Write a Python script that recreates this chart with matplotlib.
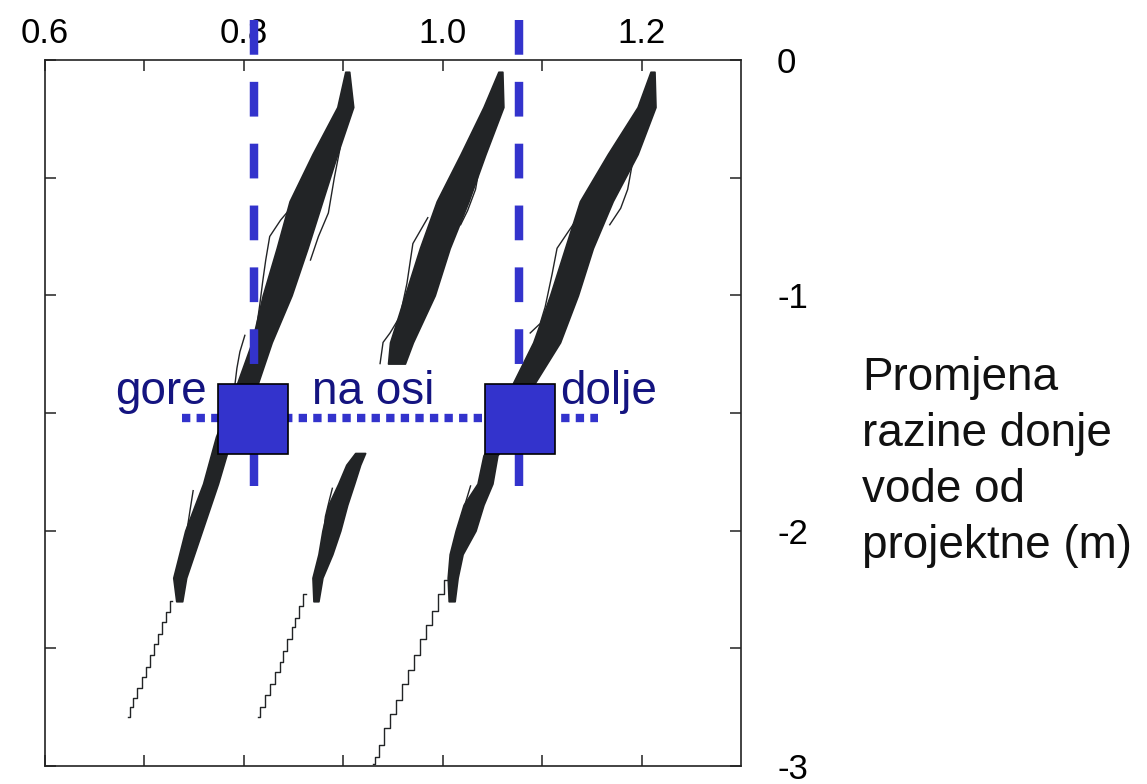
import matplotlib.pyplot as plt

plt.rcParams['font.family'] = ['Liberation Sans', 'DejaVu Sans']
plt.rcParams['axes.unicode_minus'] = False

# axis ticks
x_major = [0.6, 0.8, 1.0, 1.2]
x_labels = ['0.6', '0.8', '1.0', '1.2']
x_minor = [0.7, 0.9, 1.1]
y_major = [0, -1, -2, -3]
y_labels = ['0', '-1', '-2', '-3']
y_minor = [-0.5, -1.5, -2.5]

# bundle A (left): dense band edges
a_y = [-0.05, -0.2, -0.4, -0.6, -0.8, -1.0, -1.2, -1.4, -1.6, -1.8, -2.0, -2.2, -2.3]
a_xl = [0.902, 0.894, 0.869, 0.846, 0.833, 0.819, 0.808, 0.791, 0.772, 0.759, 0.741, 0.729, 0.732]
a_xr = [0.906, 0.910, 0.894, 0.879, 0.864, 0.848, 0.828, 0.812, 0.788, 0.774, 0.758, 0.742, 0.738]
# bundle A tail
a_tail_x = [0.728, 0.724, 0.720, 0.716, 0.712, 0.708, 0.704, 0.700, 0.695, 0.691, 0.687, 0.683]
a_tail_y = [-2.30, -2.345, -2.39, -2.44, -2.48, -2.53, -2.58, -2.62, -2.67, -2.71, -2.75, -2.79]
# bundle A loose traces
a_loop1_x = [0.847, 0.837, 0.826, 0.822, 0.819, 0.816, 0.813, 0.810]
a_loop1_y = [-0.63, -0.68, -0.75, -0.85, -0.94, -1.04, -1.13, -1.20]
a_loop2_x = [0.801, 0.796, 0.793, 0.791]
a_loop2_y = [-1.17, -1.24, -1.31, -1.38]
a_loop3_x = [0.897, 0.891, 0.885, 0.875, 0.867]
a_loop3_y = [-0.37, -0.50, -0.65, -0.75, -0.85]
a_loop4_x = [0.749, 0.746, 0.742, 0.738, 0.736]
a_loop4_y = [-1.83, -1.91, -2.02, -2.13, -2.23]

# bundle B (middle): upper band and lower band
b_up_y = [-0.05, -0.2, -0.4, -0.6, -0.8, -1.0, -1.2, -1.29]
b_up_xl = [1.056, 1.041, 1.018, 0.994, 0.977, 0.962, 0.947, 0.945]
b_up_xr = [1.060, 1.061, 1.043, 1.026, 1.007, 0.992, 0.970, 0.962]
b_lo_y = [-1.67, -1.72, -1.80, -1.89, -2.00, -2.10, -2.20, -2.30]
b_lo_xl = [0.912, 0.903, 0.895, 0.885, 0.879, 0.875, 0.869, 0.870]
b_lo_xr = [0.922, 0.917, 0.911, 0.904, 0.897, 0.889, 0.879, 0.875]
b_tail_x = [0.862, 0.857, 0.853, 0.850, 0.846, 0.841, 0.838, 0.834, 0.829, 0.824, 0.819, 0.814]
b_tail_y = [-2.27, -2.32, -2.37, -2.41, -2.46, -2.51, -2.56, -2.60, -2.65, -2.70, -2.75, -2.79]
b_loop1_x = [0.985, 0.970, 0.964, 0.957, 0.947, 0.940, 0.937]
b_loop1_y = [-0.67, -0.78, -0.95, -1.09, -1.16, -1.20, -1.29]
b_loop2_x = [1.038, 1.033, 1.025, 1.018]
b_loop2_y = [-0.43, -0.55, -0.64, -0.70]
b_loop3_x = [0.889, 0.886, 0.882, 0.880]
b_loop3_y = [-1.82, -1.87, -1.94, -2.02]

# bundle C (right)
c_y = [-0.05, -0.2, -0.4, -0.6, -0.8, -1.0, -1.2, -1.37, -1.6, -1.68, -1.8, -1.89, -2.0, -2.1, -2.2, -2.3]
c_xl = [1.209, 1.196, 1.166, 1.138, 1.123, 1.108, 1.091, 1.071, 1.053, 1.041, 1.035, 1.021, 1.013, 1.007, 1.005, 1.006]
c_xr = [1.213, 1.214, 1.196, 1.171, 1.151, 1.136, 1.118, 1.093, 1.068, 1.055, 1.050, 1.041, 1.033, 1.020, 1.015, 1.012]
c_tail_x = [1.004, 0.998, 0.992, 0.986, 0.980, 0.974, 0.968, 0.962, 0.956, 0.950, 0.944, 0.938, 0.933, 0.930]
c_tail_y = [-2.21, -2.27, -2.34, -2.40, -2.46, -2.53, -2.59, -2.65, -2.72, -2.78, -2.84, -2.91, -2.96, -2.99]
c_loop1_x = [1.138, 1.131, 1.115, 1.110, 1.103, 1.098, 1.088]
c_loop1_y = [-0.66, -0.70, -0.80, -0.91, -1.05, -1.12, -1.16]
c_loop2_x = [1.192, 1.186, 1.179, 1.168]
c_loop2_y = [-0.41, -0.55, -0.63, -0.70]
c_loop3_x = [1.028, 1.018, 1.015]
c_loop3_y = [-1.81, -1.95, -2.06]

# blue markers and guide lines
sq_x = [0.8095, 1.0774]
sq_y = [-1.525, -1.525]
vline_x = [0.81, 1.077]
vline_y = [0.169, -1.812]
hline_x = [0.738, 1.156]
hline_y = [-1.523, -1.523]
pos_labels = ['gore', 'na osi', 'dolje']

dark = '#222426'
blue = '#3333cc'
navy = '#141480'

fig = plt.figure(figsize=(11.47, 7.84), dpi=100)
ax = fig.add_axes([45 / 1147, 1 - 766 / 784, 696 / 1147, 706 / 784])

for y, xl, xr in [(a_y, a_xl, a_xr), (b_up_y, b_up_xl, b_up_xr),
                  (b_lo_y, b_lo_xl, b_lo_xr), (c_y, c_xl, c_xr)]:
    ax.fill_betweenx(y, xl, xr, color=dark, lw=1.2, zorder=2)

for x, y in [(a_tail_x, a_tail_y), (b_tail_x, b_tail_y), (c_tail_x, c_tail_y)]:
    ax.plot(x, y, color=dark, lw=1.0, drawstyle='steps-mid', zorder=2)

for x, y in [(a_loop1_x, a_loop1_y), (a_loop2_x, a_loop2_y), (a_loop3_x, a_loop3_y),
             (a_loop4_x, a_loop4_y), (b_loop1_x, b_loop1_y), (b_loop2_x, b_loop2_y),
             (b_loop3_x, b_loop3_y), (c_loop1_x, c_loop1_y), (c_loop2_x, c_loop2_y),
             (c_loop3_x, c_loop3_y)]:
    ax.plot(x, y, color=dark, lw=1.0, zorder=2)

for vx in vline_x:
    ax.plot([vx, vx], vline_y, color=blue, lw=6.1, dashes=(4.1, 3.2),
            clip_on=False, zorder=3)
ax.plot(hline_x, hline_y, color=blue, lw=6.0, dashes=(1.0, 0.75), zorder=3)
ax.plot(sq_x, sq_y, 's', ms=51, mfc=blue, mec='black', mew=1.2, zorder=4)

ax.text(0.763, -1.46, pos_labels[0], color=navy, fontsize=33, ha='right', va='baseline', zorder=5)
ax.text(0.8686, -1.46, pos_labels[1], color=navy, fontsize=33, ha='left', va='baseline', zorder=5)
ax.text(1.118, -1.46, pos_labels[2], color=navy, fontsize=33, ha='left', va='baseline', zorder=5)

ax.text(1.422, -1.707, 'Promjena\nrazine donje\nvode od\nprojektne (m)', fontsize=33,
        ha='left', va='center', linespacing=1.35, color='#111111')

ax.set_xlim(0.6, 1.3)
ax.set_ylim(-3, 0)
ax.xaxis.tick_top()
ax.yaxis.tick_right()
ax.set_xticks(x_major, labels=x_labels)
ax.set_xticks(x_minor, minor=True)
ax.set_yticks(y_major, labels=y_labels)
ax.set_yticks(y_minor, minor=True)
ax.tick_params(which='both', direction='in', length=8, width=1.1, color='#222222',
               top=True, bottom=True, left=True, right=True, labelsize=25)
ax.tick_params(axis='x', which='major', pad=7)
ax.tick_params(axis='y', which='major', pad=26)
for s in ax.spines.values():
    s.set_linewidth(1.2)
    s.set_color('#222222')

fig.savefig('out.png', dpi=100)
